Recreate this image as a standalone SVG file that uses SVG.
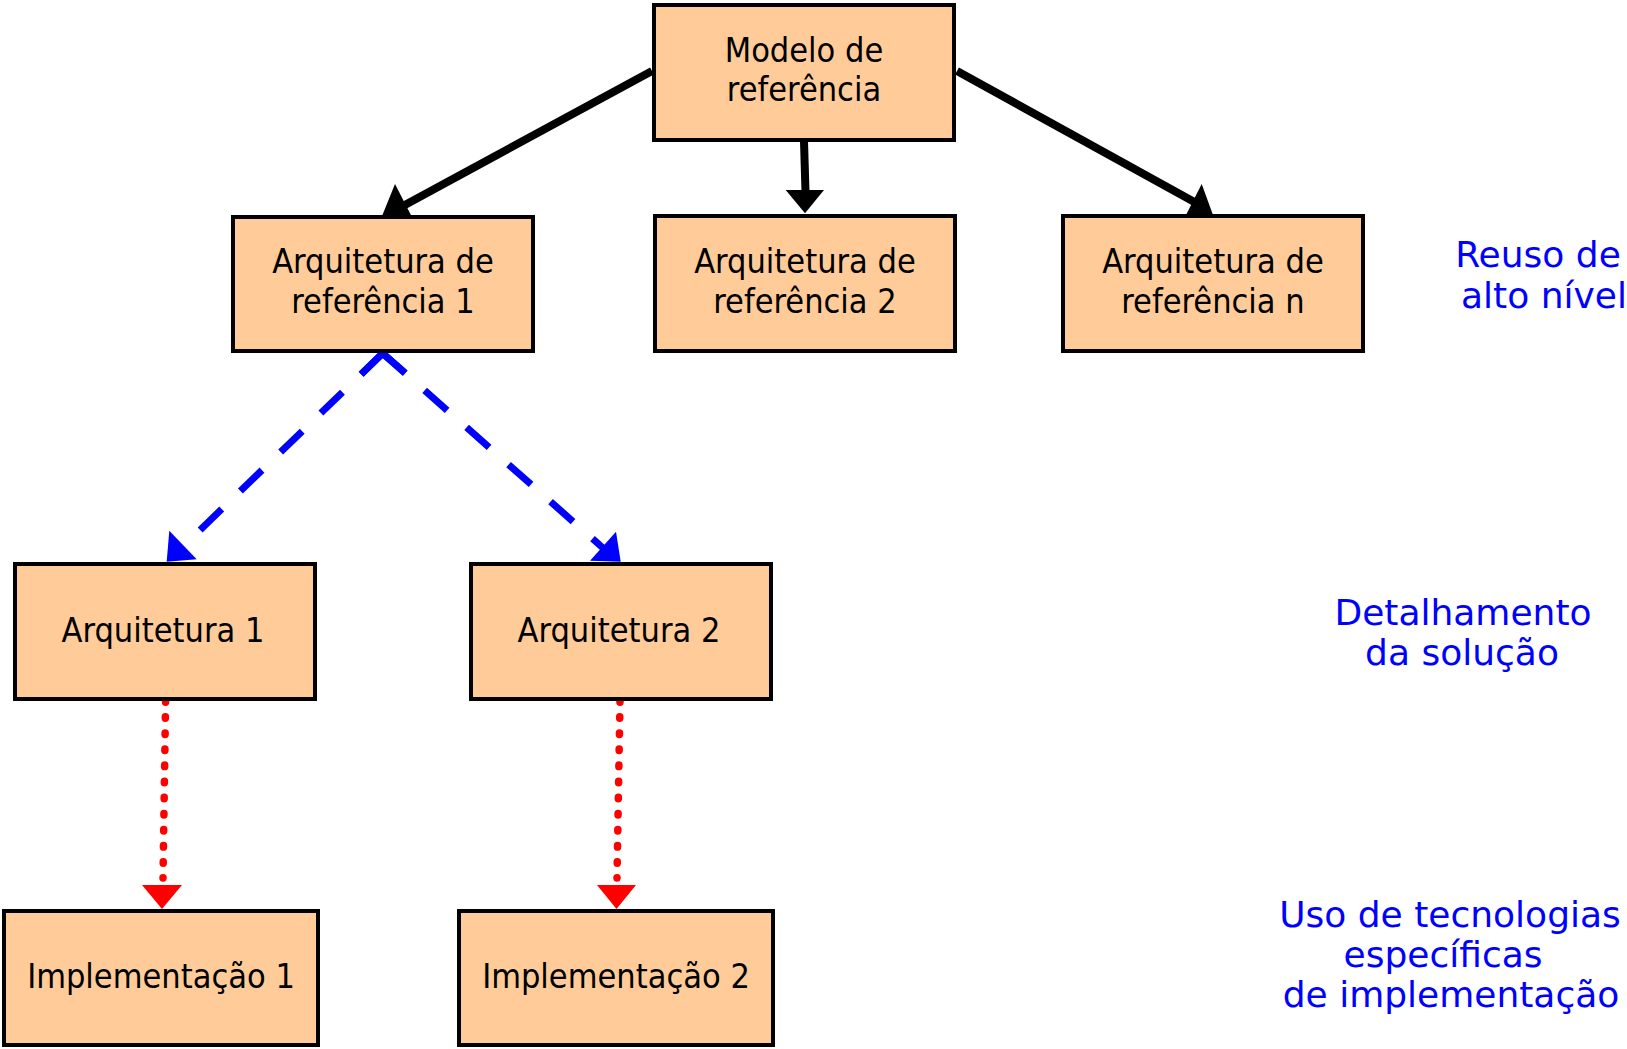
<svg xmlns="http://www.w3.org/2000/svg" width="1627" height="1049" viewBox="0 0 1627 1049">
<style>
.box{fill:#FFCC99;stroke:#000;stroke-width:4}
.lbl{font-family:"DejaVu Sans Condensed","DejaVu Sans",sans-serif;font-stretch:condensed;font-size:34px;fill:#000;text-anchor:middle}
.note{font-family:"DejaVu Sans",Verdana,sans-serif;font-size:36px;fill:#0000FF;text-anchor:middle}
.solid{stroke:#000;stroke-width:8;fill:none}
.dash{stroke:#0000FF;stroke-width:7;fill:none;stroke-dasharray:30 26}
.dot{stroke:#FF0000;stroke-width:7.5;fill:none;stroke-dasharray:1.5 14.6;stroke-linecap:round}
</style>
<rect x="0" y="0" width="1627" height="1049" fill="#fff"/>
<g id="connectors">
<line class="solid" x1="652" y1="71" x2="403" y2="206"/>
<polygon points="395,184 382,216 414,221" fill="#000"/>
<line class="solid" x1="804" y1="141" x2="805.5" y2="192"/>
<polygon points="785.7,190 824,190 805,213.3" fill="#000"/>
<line class="solid" x1="957" y1="71" x2="1198" y2="204"/>
<polygon points="1201.7,184 1184,219 1213,215" fill="#000"/>
<path d="M361.1,374.2 L382.7,353.3 L405.2,373.2" stroke="#0000FF" stroke-width="7" fill="none" stroke-linejoin="miter"/>
<path class="dash" d="M382.7,353.3 L194.4,535.5"/>
<polygon points="169.3,530.7 166.7,561.7 196.7,559.3" fill="#0000FF"/>
<path class="dash" d="M382.7,353.3 L607.5,552"/>
<polygon points="616,531.7 620.7,561.7 590,560.7" fill="#0000FF"/>
<path class="dot" d="M165.6,700.7 L163,878"/>
<polygon points="142,885 182,885 162,909" fill="#FF0000"/>
<path class="dot" d="M620,700.7 L617,878"/>
<polygon points="597,885 636,885 616.5,909" fill="#FF0000"/>
</g>
<g id="modelo">
<rect class="box" x="654" y="5" width="300" height="135"/>
<text class="lbl" x="804" y="62">Modelo de</text>
<text class="lbl" x="804" y="101">referência</text>
</g>
<g id="arqref1">
<rect class="box" x="233" y="217" width="300" height="134"/>
<text class="lbl" x="383" y="273">Arquitetura de</text>
<text class="lbl" x="383" y="313">referência 1</text>
</g>
<g id="arqref2">
<rect class="box" x="655" y="216" width="300" height="135"/>
<text class="lbl" x="805" y="273">Arquitetura de</text>
<text class="lbl" x="805" y="313">referência 2</text>
</g>
<g id="arqrefn">
<rect class="box" x="1063" y="216" width="300" height="135"/>
<text class="lbl" x="1213" y="273">Arquitetura de</text>
<text class="lbl" x="1213" y="313">referência n</text>
</g>
<g id="arq1">
<rect class="box" x="15" y="564" width="300" height="135"/>
<text class="lbl" x="163" y="642">Arquitetura 1</text>
</g>
<g id="arq2">
<rect class="box" x="471" y="564" width="300" height="135"/>
<text class="lbl" x="619" y="642">Arquitetura 2</text>
</g>
<g id="impl1">
<rect class="box" x="4" y="911" width="314" height="134"/>
<text class="lbl" x="161" y="988">Implementação 1</text>
</g>
<g id="impl2">
<rect class="box" x="459" y="911" width="314" height="134"/>
<text class="lbl" x="616" y="988">Implementação 2</text>
</g>
<g id="notes">
<text class="note" x="1538" y="267">Reuso de</text>
<text class="note" x="1544" y="308">alto nível</text>
<text class="note" x="1463" y="625">Detalhamento</text>
<text class="note" x="1462" y="665">da solução</text>
<text class="note" x="1450" y="927">Uso de tecnologias</text>
<text class="note" x="1443" y="967">específicas</text>
<text class="note" x="1451" y="1007">de implementação</text>
</g>
</svg>
